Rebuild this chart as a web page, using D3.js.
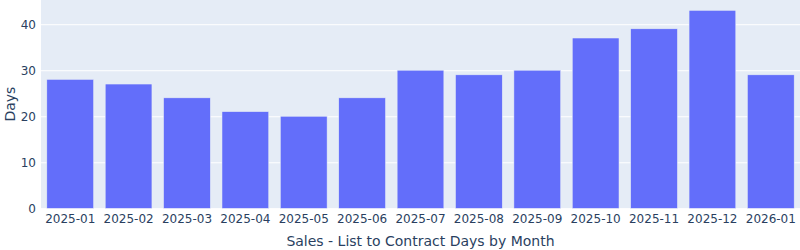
<!DOCTYPE html>
<html><head><meta charset="utf-8">
<script src="https://cdn.jsdelivr.net/npm/d3@7"></script>
<style>body{margin:0;background:#fff}svg{display:block}text{font-family:"DejaVu Sans",verdana,sans-serif;fill:#2a3f5f}</style>
</head><body><svg id="c" width="800" height="250"></svg>
<script>
const months = ["2025-01","2025-02","2025-03","2025-04","2025-05","2025-06","2025-07","2025-08","2025-09","2025-10","2025-11","2025-12","2026-01"];
const days = [28,27,24,21,20,24,30,29,30,37,39,43,29];
const yTicks = [0,10,20,30,40];
const xTitle = "Sales - List to Contract Days by Month";
const yTitle = "Days";

const W=800,H=250,m={l:41,r:0,t:0,b:41.7};
const svg=d3.select("#c");
const pw=W-m.l-m.r, ph=H-m.t-m.b;
const g=svg.append("g").attr("transform",`translate(${m.l},${m.t})`);
g.append("rect").attr("width",pw).attr("height",ph).attr("fill","#e5ecf6");
const x=d3.scaleBand().domain(months).range([0,pw]).paddingInner(0.2).paddingOuter(0.1);
const y=d3.scaleLinear().domain([0,d3.max(days)*1.0526]).range([ph,0]);
const ya=g.append("g").call(d3.axisLeft(y).tickValues(yTicks).tickSize(-pw).tickPadding(5));
ya.select(".domain").remove();
ya.selectAll("line").attr("stroke","#fff").attr("stroke-width",1);
ya.selectAll("text").style("font-size","12px").attr("fill","#2a3f5f");
g.selectAll(".bar").data(days).join("rect")
 .attr("x",(d,i)=>x(months[i])).attr("width",x.bandwidth())
 .attr("y",d=>y(d)).attr("height",d=>ph-y(d))
 .attr("fill","#636efa").attr("stroke","#e5ecf6").attr("stroke-width",0.5);
const xa=g.append("g").attr("transform",`translate(0,${ph})`).call(d3.axisBottom(x).tickSize(0).tickPadding(6));
xa.select(".domain").remove();
xa.selectAll("text").style("font-size","12px").attr("fill","#2a3f5f");
svg.append("text").attr("x",m.l+pw/2).attr("y",245.5).attr("text-anchor","middle").style("font-size","14px").text(xTitle);
svg.append("text").attr("transform",`translate(15,${ph/2}) rotate(-90)`).attr("text-anchor","middle").style("font-size","14px").text(yTitle);
</script></body></html>
